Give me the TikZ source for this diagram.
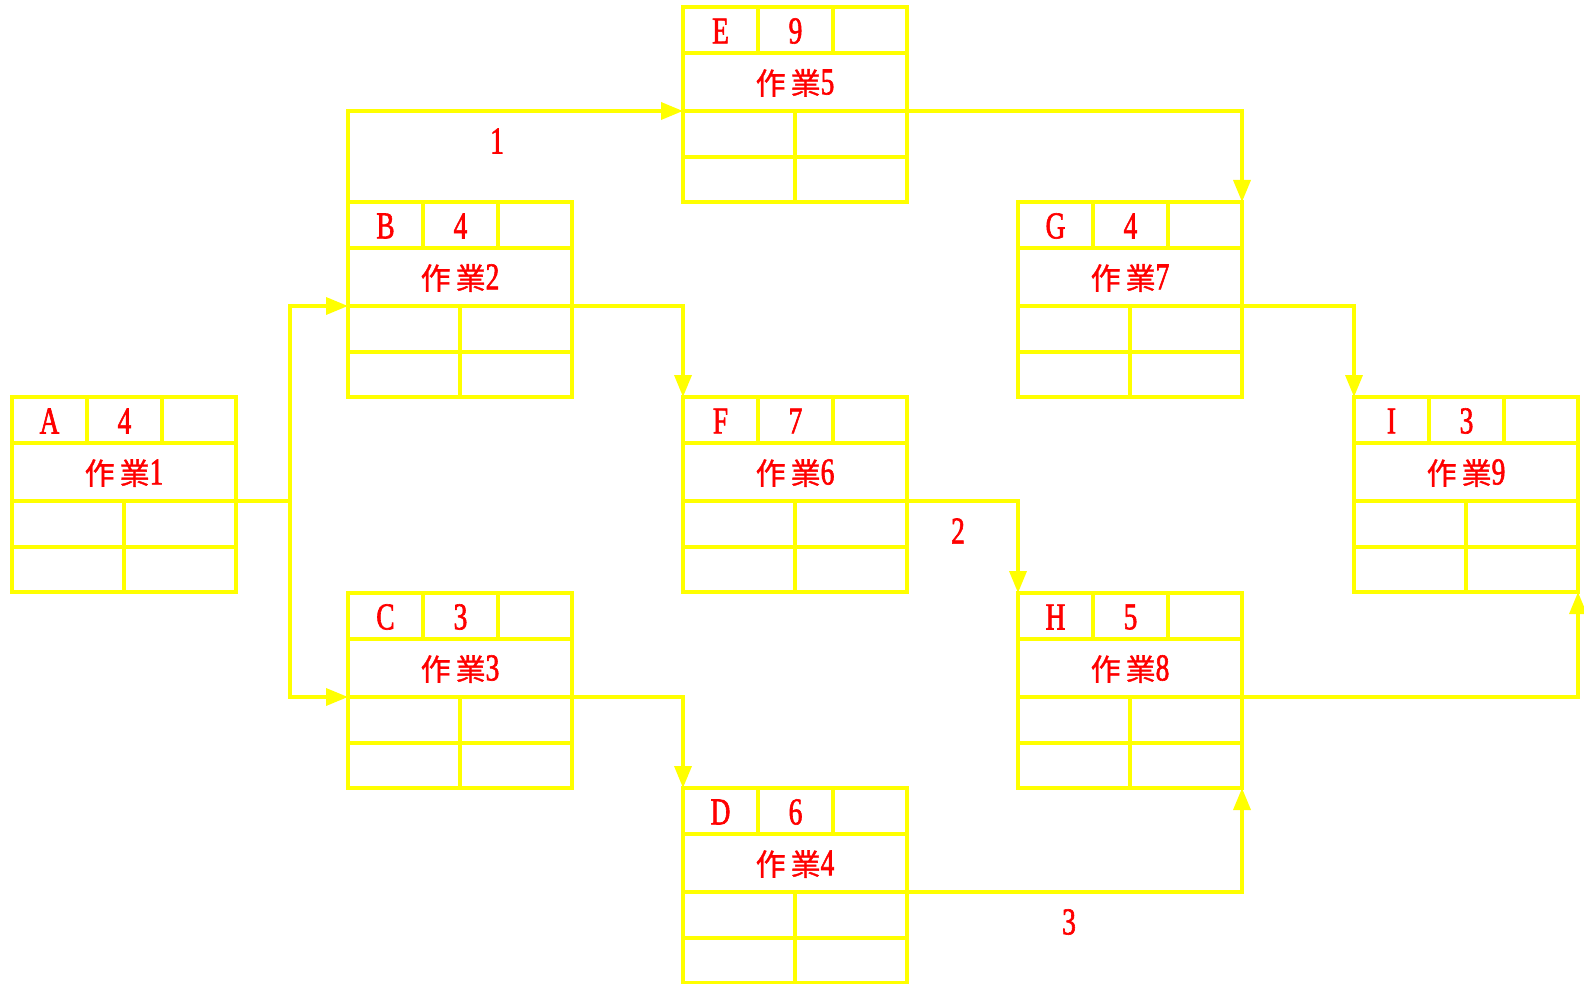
\documentclass[tikz,border=0pt]{standalone}
\usepackage{fontspec}
\setmainfont[FakeStretch=0.72,FakeBold=1.6]{Liberation Serif}
\newfontfamily\cjk[FakeBold=1.2]{Noto Sans CJK TC}
\usetikzlibrary{arrows.meta,calc}
\definecolor{ylw}{RGB}{255,255,0}
\definecolor{txtred}{RGB}{255,0,0}
\tikzset{
  grid/.style={draw=ylw,line width=4pt},
  boxst/.style={draw=ylw,line width=4pt,rectangle,inner sep=0pt,outer sep=0pt,minimum width=224pt,minimum height=195pt},
  arr/.style={draw=ylw,line width=3.5pt,-{Triangle[length=22pt,width=17pt]}},
  lbl/.style={text=txtred,font=\fontsize{38}{40}\selectfont,inner sep=0pt},
  ttl/.style={text=txtred,font=\fontsize{30}{34}\selectfont,inner sep=0pt},
}
\newcommand\taskbox[6]{%
  \node[boxst,anchor=north west] (#1) at (#2,#3) {};
  \draw[grid] (#2,#3+46) -- (#2+224,#3+46);
  \draw[grid] (#2,#3+104) -- (#2+224,#3+104);
  \draw[grid] (#2,#3+150) -- (#2+224,#3+150);
  \draw[grid] (#2+75,#3) -- (#2+75,#3+46);
  \draw[grid] (#2+150,#3) -- (#2+150,#3+46);
  \draw[grid] (#2+112,#3+104) -- (#2+112,#3+195);
  \node[lbl] (#1-id) at (#2+37.5,#3+24) {#4};
  \node[lbl] (#1-dur) at (#2+112.5,#3+24) {#5};
  \node[ttl] (#1-ttl) at (#2+112,#3+76) {{\cjk 作\hspace{5pt}業}\fontsize{38}{40}\selectfont #6};
  \coordinate (#1-L) at (#2,#3+104);
  \coordinate (#1-R) at (#2+224,#3+104);
}
\begin{document}
\begin{tikzpicture}[x=1pt,y=-1pt]
\useasboundingbox (0,0) rectangle (1584,984);
\fill[white] (0,0) rectangle (1584,984);
\taskbox{A}{12}{397}{A}{4}{1}
\taskbox{B}{348}{202}{B}{4}{2}
\taskbox{C}{348}{593}{C}{3}{3}
\taskbox{D}{683}{788}{D}{6}{4}
\taskbox{E}{683}{7}{E}{9}{5}
\taskbox{F}{683}{397}{F}{7}{6}
\taskbox{G}{1018}{202}{G}{4}{7}
\taskbox{H}{1018}{593}{H}{5}{8}
\taskbox{I}{1354}{397}{I}{3}{9}
\draw[arr] (A-R) -- ++(54,0) |- (B-L);
\draw[arr] (A-R) -- ++(54,0) |- (C-L);
\draw[arr] (B.north west) |- (E-L);
\draw[arr] (B-R) -| (F.north west);
\draw[arr] (C-R) -| (D.north west);
\draw[arr] (E-R) -| (G.north east);
\draw[arr] (F-R) -| (H.north west);
\draw[arr] (G-R) -| (I.north west);
\draw[arr] (H-R) -| (I.south east);
\draw[arr] (D-R) -| (H.south east);
\node[lbl] (l1) at (497,141) {1};
\node[lbl] (l2) at (958,531) {2};
\node[lbl] (l3) at (1069,922) {3};
\end{tikzpicture}
\end{document}
